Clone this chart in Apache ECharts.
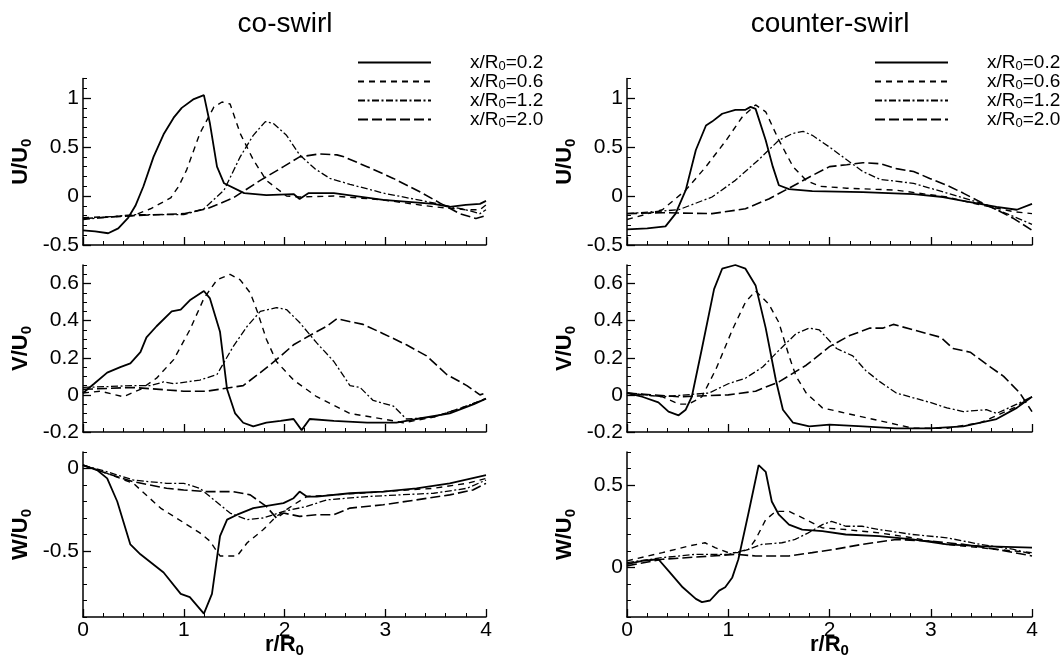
<!DOCTYPE html>
<html><head><meta charset="utf-8">
<script src="https://cdn.jsdelivr.net/npm/echarts@6/dist/echarts.min.js"></script>
<style>html,body{margin:0;padding:0;background:#fff}#c{width:1060px;height:661px}</style>
</head><body><div id="c"></div><script>
const legendNames = ['x/R0=0.2','x/R0=0.6','x/R0=1.2','x/R0=2.0'];
const panelTitles = ['co-swirl','counter-swirl'];
const yNames = ['U/U','V/U','W/U'];
const xName = 'r/R';
const xTickValues = [0,1,2,3,4];
const uTickValues = [-0.5,0,0.5,1];
const vTickValues = [-0.2,0,0.2,0.4,0.6];
const wCoTickValues = [-0.5,0];
const wCtTickValues = [0,0.5];

// co-swirl U
const coU_02 = [[0,-0.35],[0.12,-0.36],[0.25,-0.38],[0.35,-0.33],[0.45,-0.22],[0.52,-0.1],[0.6,0.1],[0.7,0.4],[0.8,0.63],[0.9,0.8],[0.98,0.9],[1.1,0.99],[1.2,1.03],[1.26,0.74],[1.33,0.3],[1.4,0.13],[1.6,0.03],[1.82,0.01],[2.09,0.02],[2.15,-0.03],[2.24,0.03],[2.49,0.03],[2.98,-0.04],[3.48,-0.08],[3.64,-0.11],[3.8,-0.09],[3.94,-0.08],[4.0,-0.05]];
const coU_06 = [[0,-0.22],[0.3,-0.21],[0.5,-0.2],[0.67,-0.13],[0.87,-0.02],[0.95,0.1],[1.03,0.27],[1.16,0.64],[1.3,0.91],[1.38,0.96],[1.46,0.94],[1.56,0.64],[1.69,0.37],[1.82,0.16],[2.02,0],[2.15,-0.01],[2.49,0],[2.98,-0.04],[3.48,-0.11],[3.8,-0.14],[3.94,-0.14],[4.0,-0.09]];
const coU_12 = [[0,-0.24],[0.5,-0.19],[1.0,-0.19],[1.2,-0.13],[1.4,0.06],[1.56,0.4],[1.69,0.62],[1.81,0.76],[1.89,0.74],[2.02,0.62],[2.15,0.42],[2.3,0.28],[2.45,0.18],[2.65,0.12],[2.98,0.03],[3.48,-0.07],[3.8,-0.14],[3.94,-0.18],[4.0,-0.14]];
const coU_20 = [[0,-0.23],[0.5,-0.2],[1.0,-0.18],[1.23,-0.13],[1.49,-0.02],[1.76,0.16],[1.99,0.3],[2.15,0.4],[2.35,0.43],[2.52,0.42],[2.59,0.4],[2.82,0.3],[3.08,0.18],[3.35,0.04],[3.54,-0.07],[3.74,-0.18],[3.9,-0.23],[4.0,-0.2]];
// counter-swirl U
const ctU_02 = [[0,-0.34],[0.2,-0.33],[0.38,-0.31],[0.48,-0.18],[0.58,0.06],[0.68,0.47],[0.78,0.72],[0.84,0.76],[0.94,0.84],[1.07,0.88],[1.17,0.88],[1.22,0.91],[1.27,0.89],[1.37,0.57],[1.44,0.3],[1.5,0.11],[1.6,0.07],[1.83,0.05],[2.33,0.04],[2.83,0.02],[3.12,-0.01],[3.32,-0.05],[3.65,-0.11],[3.85,-0.14],[4.0,-0.08]];
const ctU_06 = [[0,-0.24],[0.35,-0.14],[0.58,0.06],[0.78,0.3],[0.98,0.57],[1.14,0.81],[1.27,0.93],[1.37,0.86],[1.5,0.57],[1.64,0.3],[1.77,0.16],[1.9,0.1],[2.17,0.08],[2.66,0.06],[3.16,-0.01],[3.49,-0.09],[3.82,-0.16],[4.0,-0.18]];
const ctU_12 = [[0,-0.18],[0.51,-0.14],[0.84,-0.01],[1.07,0.16],[1.3,0.37],[1.5,0.57],[1.64,0.64],[1.74,0.66],[1.83,0.62],[2.0,0.5],[2.17,0.37],[2.33,0.25],[2.5,0.17],[2.83,0.13],[3.16,0.03],[3.49,-0.07],[3.82,-0.21],[4.0,-0.29]];
const ctU_20 = [[0,-0.18],[0.35,-0.17],[0.84,-0.18],[1.17,-0.13],[1.4,-0.03],[1.6,0.08],[1.83,0.21],[2.0,0.3],[2.17,0.32],[2.33,0.34],[2.5,0.33],[2.66,0.28],[2.83,0.25],[2.99,0.18],[3.16,0.11],[3.32,0.03],[3.49,-0.06],[3.65,-0.14],[3.82,-0.23],[4.0,-0.35]];
// co-swirl V
const coV_02 = [[0,0.01],[0.11,0.06],[0.24,0.12],[0.37,0.15],[0.47,0.17],[0.57,0.23],[0.63,0.31],[0.73,0.37],[0.88,0.45],[0.97,0.46],[1.06,0.51],[1.2,0.56],[1.26,0.52],[1.36,0.34],[1.43,0.03],[1.51,-0.1],[1.59,-0.15],[1.69,-0.17],[1.82,-0.15],[1.96,-0.14],[2.09,-0.13],[2.17,-0.19],[2.25,-0.13],[2.49,-0.14],[2.82,-0.15],[3.11,-0.15],[3.31,-0.13],[3.64,-0.1],[3.88,-0.05],[4.0,-0.02]];
const coV_06 = [[0,0.01],[0.17,0.02],[0.4,-0.01],[0.57,0.03],[0.73,0.09],[0.9,0.19],[1.06,0.35],[1.2,0.52],[1.33,0.62],[1.46,0.65],[1.56,0.62],[1.66,0.55],[1.73,0.45],[1.82,0.3],[1.92,0.18],[2.09,0.08],[2.32,-0.01],[2.65,-0.1],[2.98,-0.13],[3.18,-0.15],[3.48,-0.12],[3.81,-0.06],[4.0,-0.02]];
const coV_12 = [[0,0.04],[0.5,0.05],[0.67,0.05],[0.8,0.07],[0.9,0.06],[1.16,0.08],[1.33,0.11],[1.49,0.26],[1.63,0.37],[1.76,0.45],[1.92,0.47],[2.02,0.46],[2.15,0.39],[2.32,0.28],[2.49,0.18],[2.65,0.05],[2.75,0.04],[2.88,-0.03],[3.08,-0.06],[3.21,-0.13],[3.48,-0.12],[3.81,-0.06],[4.0,-0.02]];
const coV_20 = [[0,0.03],[0.5,0.04],[1.0,0.02],[1.23,0.02],[1.59,0.05],[1.76,0.12],[1.92,0.19],[2.09,0.27],[2.25,0.32],[2.42,0.37],[2.52,0.41],[2.78,0.38],[2.98,0.33],[3.21,0.27],[3.41,0.21],[3.61,0.11],[3.81,0.05],[3.94,0],[4.0,0.01]];
// counter-swirl V
const ctV_02 = [[0,0.01],[0.15,-0.01],[0.31,-0.04],[0.41,-0.09],[0.51,-0.11],[0.58,-0.08],[0.64,-0.01],[0.74,0.25],[0.86,0.57],[0.94,0.68],[1.07,0.7],[1.17,0.68],[1.27,0.59],[1.37,0.36],[1.47,0.08],[1.54,-0.08],[1.64,-0.15],[1.8,-0.17],[2.0,-0.16],[2.33,-0.17],[2.66,-0.18],[2.99,-0.18],[3.32,-0.17],[3.65,-0.13],[3.85,-0.07],[4.0,-0.01]];
const ctV_06 = [[0,0.01],[0.35,-0.01],[0.51,-0.05],[0.61,-0.05],[0.74,-0.01],[0.88,0.14],[1.04,0.35],[1.17,0.5],[1.27,0.56],[1.4,0.49],[1.5,0.39],[1.6,0.21],[1.67,0.1],[1.77,0.01],[1.93,-0.07],[2.17,-0.1],[2.5,-0.14],[2.83,-0.18],[3.16,-0.18],[3.49,-0.15],[3.82,-0.07],[4.0,-0.01]];
const ctV_12 = [[0,0.01],[0.35,-0.01],[0.81,0.01],[1.0,0.06],[1.17,0.09],[1.34,0.15],[1.5,0.24],[1.67,0.33],[1.8,0.36],[1.9,0.35],[2.07,0.25],[2.23,0.21],[2.36,0.13],[2.5,0.07],[2.66,0.01],[2.99,-0.04],[3.16,-0.07],[3.32,-0.09],[3.55,-0.08],[3.65,-0.1],[3.85,-0.05],[4.0,-0.01]];
const ctV_20 = [[0,0.01],[0.51,-0.01],[1.0,0],[1.27,0.02],[1.5,0.07],[1.77,0.16],[2.0,0.26],[2.2,0.32],[2.4,0.36],[2.53,0.36],[2.63,0.38],[2.83,0.35],[3.1,0.31],[3.22,0.25],[3.39,0.23],[3.59,0.15],[3.72,0.1],[3.88,0.01],[4.0,-0.09]];
// co-swirl W
const coW_02 = [[0,0.02],[0.14,-0.01],[0.24,-0.06],[0.34,-0.2],[0.47,-0.46],[0.57,-0.52],[0.8,-0.63],[0.97,-0.76],[1.06,-0.78],[1.2,-0.88],[1.28,-0.76],[1.36,-0.41],[1.43,-0.31],[1.53,-0.28],[1.69,-0.24],[1.99,-0.21],[2.09,-0.18],[2.15,-0.14],[2.22,-0.17],[2.32,-0.17],[2.65,-0.15],[2.98,-0.14],[3.31,-0.12],[3.64,-0.09],[4.0,-0.04]];
const coW_06 = [[0,0.02],[0.24,-0.03],[0.5,-0.09],[0.77,-0.24],[1.03,-0.34],[1.16,-0.39],[1.26,-0.44],[1.36,-0.53],[1.53,-0.53],[1.63,-0.45],[1.79,-0.37],[1.92,-0.29],[2.09,-0.22],[2.22,-0.17],[2.49,-0.16],[2.98,-0.14],[3.48,-0.12],[3.81,-0.09],[4.0,-0.06]];
const coW_12 = [[0,0.02],[0.24,-0.02],[0.5,-0.07],[0.83,-0.09],[1.0,-0.09],[1.16,-0.12],[1.3,-0.19],[1.46,-0.27],[1.63,-0.31],[1.79,-0.3],[1.99,-0.26],[2.22,-0.23],[2.42,-0.19],[2.82,-0.17],[3.14,-0.16],[3.48,-0.15],[3.81,-0.12],[4.0,-0.07]];
const coW_20 = [[0,0.02],[0.24,-0.03],[0.5,-0.08],[0.83,-0.12],[1.0,-0.13],[1.23,-0.14],[1.49,-0.14],[1.66,-0.16],[1.82,-0.23],[1.92,-0.3],[1.99,-0.27],[2.15,-0.29],[2.32,-0.28],[2.49,-0.28],[2.65,-0.24],[2.98,-0.22],[3.31,-0.19],[3.64,-0.16],[3.87,-0.13],[4.0,-0.09]];
// counter-swirl W
const ctW_02 = [[0,0.02],[0.15,0.04],[0.31,0.05],[0.41,-0.02],[0.55,-0.12],[0.68,-0.19],[0.74,-0.21],[0.82,-0.2],[0.91,-0.14],[0.97,-0.12],[1.04,-0.06],[1.1,0.05],[1.2,0.33],[1.3,0.62],[1.37,0.58],[1.43,0.4],[1.5,0.32],[1.6,0.26],[1.73,0.23],[1.93,0.22],[2.16,0.2],[2.49,0.19],[2.82,0.17],[3.16,0.14],[3.49,0.13],[4.0,0.12]];
const ctW_06 = [[0,0.04],[0.35,0.09],[0.61,0.13],[0.77,0.15],[0.87,0.12],[1.0,0.09],[1.1,0.09],[1.2,0.11],[1.27,0.17],[1.37,0.29],[1.47,0.34],[1.6,0.34],[1.77,0.29],[1.93,0.24],[2.16,0.23],[2.49,0.21],[2.82,0.18],[3.16,0.14],[3.65,0.11],[4.0,0.09]];
const ctW_12 = [[0,0.03],[0.35,0.06],[0.68,0.08],[1.0,0.08],[1.2,0.11],[1.33,0.14],[1.53,0.15],[1.66,0.17],[1.79,0.21],[1.93,0.26],[2.02,0.28],[2.16,0.25],[2.32,0.25],[2.49,0.23],[2.82,0.2],[3.16,0.18],[3.49,0.14],[3.82,0.11],[4.0,0.08]];
const ctW_20 = [[0,0.01],[0.35,0.05],[0.84,0.07],[1.07,0.08],[1.27,0.07],[1.6,0.07],[1.83,0.09],[2.05,0.11],[2.32,0.14],[2.66,0.17],[2.99,0.16],[3.32,0.14],[3.65,0.11],[4.0,0.07]];

const panelData = [
  [coU_02,coU_06,coU_12,coU_20],[ctU_02,ctU_06,ctU_12,ctU_20],
  [coV_02,coV_06,coV_12,coV_20],[ctV_02,ctV_06,ctV_12,ctV_20],
  [coW_02,coW_06,coW_12,coW_20],[ctW_02,ctW_06,ctW_12,ctW_20]
];
const panelTicks = [uTickValues,uTickValues,vTickValues,vTickValues,wCoTickValues,wCtTickValues];

const FONT = '"Liberation Sans", Arial, Helvetica, sans-serif';
const yRange = [[-0.5,1.2,0.1],[-0.5,1.2,0.1],[-0.2,0.7,0.05],[-0.2,0.7,0.05],[-0.9,0.1,0.1],[-0.3,0.7,0.1]];
const gridPos = [
  {left:83, top:78.5, width:403, height:166.5},
  {left:627, top:78.5, width:405, height:166.5},
  {left:83, top:265, width:403, height:167},
  {left:627, top:265, width:405, height:167},
  {left:83, top:452, width:403, height:165},
  {left:627, top:452, width:405, height:165}
];
const lineStyles = [
  {type:'solid', width:1.8},
  {type:[6,5], width:1.4},
  {type:[7,2.5,2,2.5], width:1.3},
  {type:[10,4], width:1.6}
];
const black = {color:'#000', width:1.5};
const nameRich = {
  a:{fontSize:22, fontWeight:'bold', fontFamily:FONT, color:'#000', lineHeight:24},
  b:{fontSize:15, fontWeight:'bold', fontFamily:FONT, color:'#000', lineHeight:14, padding:[12,0,0,0]}
};
const TICKFS = 21;

const xAxes = [], yAxes = [], series = [];
gridPos.forEach((g,i)=>{
  const bottomRow = i >= 4;
  xAxes.push({
    type:'value', gridIndex:i, min:xTickValues[0], max:xTickValues[xTickValues.length-1], interval:1,
    axisLine:{show:true, onZero:false, lineStyle:black},
    axisTick:{show:true, inside:true, length:8, lineStyle:{color:'#000', width:1.3}},
    minorTick:{show:true, splitNumber:5, length:4, lineStyle:{color:'#000', width:1}},
    splitLine:{show:false}, minorSplitLine:{show:false},
    axisLabel:{show:bottomRow, color:'#000', fontSize:TICKFS, fontFamily:FONT, margin:3},
    name: bottomRow ? '{a|'+xName+'}{b|0}' : '',
    nameLocation:'middle', nameGap:16, nameMoveOverlap:false, nameTextStyle:{rich:nameRich}
  });
  const r = yRange[i];
  yAxes.push({
    type:'value', gridIndex:i, position:'left', min:r[0], max:r[1],
    axisLine:{show:true, onZero:false, lineStyle:black},
    axisTick:{show:true, inside:true, length:8, customValues:panelTicks[i], lineStyle:{color:'#000', width:1.3}},
    axisLabel:{customValues:panelTicks[i], color:'#000', fontSize:TICKFS, fontFamily:FONT, margin:4},
    splitLine:{show:false},
    name:'{a|'+yNames[Math.floor(i/2)]+'}{b|0}', nameLocation:'middle', nameRotate:90, nameGap:50,
    nameMoveOverlap:false, nameTextStyle:{rich:nameRich}
  });
  yAxes.push({
    type:'value', gridIndex:i, position:'left', min:r[0], max:r[1], interval:r[2],
    axisLine:{show:false}, axisTick:{show:true, inside:true, length:4, lineStyle:{color:'#000', width:1}},
    axisLabel:{show:false}, splitLine:{show:false}
  });
  panelData[i].forEach((d,k)=>{
    series.push({
      type:'line', name:legendNames[k], xAxisIndex:i, yAxisIndex:2*i, data:d,
      symbol:'none', showSymbol:false, smooth:false, silent:true,
      lineStyle:Object.assign({color:'#000'}, lineStyles[k]), itemStyle:{color:'#000'}
    });
  });
});

const legendRich = {
  g:{width:34},
  a:{fontSize:19, fontFamily:FONT, color:'#000', lineHeight:18},
  b:{fontSize:13, fontFamily:FONT, color:'#000', lineHeight:11, padding:[8,0,0,0]}
};
const legendFmt = n => '{g| }{a|' + n.slice(0,3) + '}{b|' + n.slice(3,4) + '}{a|' + n.slice(4) + '}';
const mkLegend = left => ({
  orient:'vertical', left:left, top:52, padding:0, itemWidth:73, itemHeight:12, itemGap:-2,
  selectedMode:false, data:legendNames, formatter:legendFmt,
  itemStyle:{opacity:0, borderWidth:0},
  textStyle:{rich:legendRich, color:'#000'}
});

const chart = echarts.init(document.getElementById('c'), null, {renderer:'canvas'});
chart.setOption({
  animation:false,
  backgroundColor:'#fff',
  grid:gridPos,
  xAxis:xAxes, yAxis:yAxes, series:series,
  legend:[mkLegend(357), mkLegend(874)],
  graphic:[
    {type:'text', x:285, y:24, style:{text:panelTitles[0], fontSize:28, fontFamily:FONT, fill:'#000', align:'center', verticalAlign:'middle'}},
    {type:'text', x:830, y:24, style:{text:panelTitles[1], fontSize:28, fontFamily:FONT, fill:'#000', align:'center', verticalAlign:'middle'}}
  ]
});
</script></body></html>
